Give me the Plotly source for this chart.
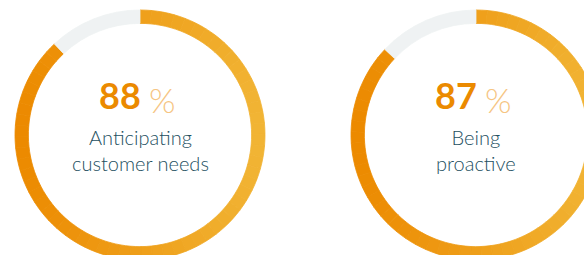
import plotly.graph_objects as go
import math

# ---- data ----
percents = [88, 87]
pct_labels = ["88", "87"]
captions = ["Anticipating<br>customer needs", "Being<br>proactive"]

# ---- style ----
W, H = 620, 280          # figure larger than the 584x255 window -> rings cropped like the reference
centers_px = [(140, 135), (476, 135)]
R_px = 125
HOLE = 0.893
LEFT_C = (236, 138, 0)
RIGHT_C = (241, 180, 52)
GRAY = "#EFF2F3"
N_SEG = 60


def lerp_col(t):
    c = [round(LEFT_C[i] + (RIGHT_C[i] - LEFT_C[i]) * t) for i in range(3)]
    return "rgb(%d,%d,%d)" % tuple(c)


def px(x, y):
    return x / W, (H - y) / H


fig = go.Figure()
for k, p in enumerate(percents):
    cx, cy = centers_px[k]
    seg_vals = [p / N_SEG] * N_SEG
    cols = []
    acc = 0.0
    for v in seg_vals:
        mid = (acc + v / 2) / 100 * 2 * math.pi
        acc += v
        t = (math.sin(mid) + 1) / 2
        cols.append(lerp_col(t))
    vals = seg_vals + [100 - p]
    cols = cols + [GRAY]
    fig.add_trace(go.Pie(
        values=vals, sort=False, direction="clockwise", rotation=0,
        hole=HOLE, textinfo="none", hoverinfo="skip", showlegend=False,
        marker=dict(colors=cols, line=dict(color=cols, width=0.8)),
        domain=dict(x=[(cx - R_px) / W, (cx + R_px) / W],
                    y=[(H - cy - R_px) / H, (H - cy + R_px) / H]),
    ))

    # big number
    x0, y0 = px(cx + 3, 119)
    fig.add_annotation(x=x0, y=y0, xref="paper", yref="paper", text=pct_labels[k],
                       showarrow=False, xanchor="right", yanchor="bottom",
                       font=dict(family="Lato", size=36, color="#EB8A00", weight="bold"))
    x1, y1 = px(cx + 7, 122)
    fig.add_annotation(x=x1, y=y1, xref="paper", yref="paper", text="%",
                       showarrow=False, xanchor="left", yanchor="bottom",
                       font=dict(family="Lato", size=34, color="#F6C583", weight=300))
    x2, y2 = px(cx, 150)
    fig.add_annotation(x=x2, y=y2, xref="paper", yref="paper", text=captions[k],
                       showarrow=False, xanchor="center", yanchor="middle",
                       font=dict(family="Lato", size=20, color="#24505F", weight=300))

fig.update_layout(width=W, height=H, margin=dict(l=0, r=0, t=0, b=0),
                  paper_bgcolor="white", plot_bgcolor="white")

fig.write_html("out.html", config={"displayModeBar": False},
               post_script="document.body.style.margin='0';document.body.style.overflow='hidden';")
